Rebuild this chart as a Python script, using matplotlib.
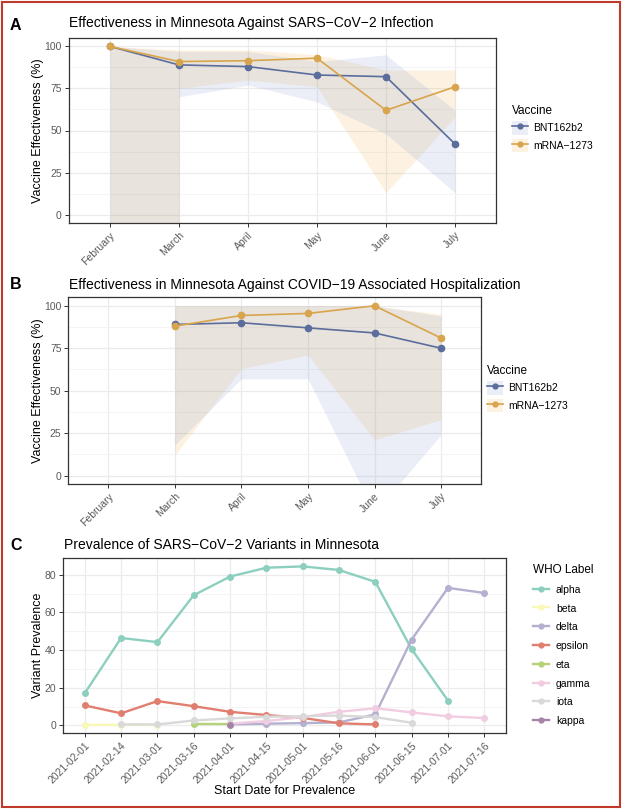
import numpy as np
import matplotlib
matplotlib.use("Agg")
import matplotlib.pyplot as plt
from matplotlib.lines import Line2D
from matplotlib.patches import Patch, Rectangle

plt.rcParams['font.family'] = ['Liberation Sans', 'DejaVu Sans']

# ---------------- data ----------------
months = ["February", "March", "April", "May", "June", "July"]
vaccines = ["BNT162b2", "mRNA\u22121273"]

# Panel A: infection
inf_bnt = [100, 89, 88, 83, 82, 42]
inf_mrna = [100, 91, 91.5, 93, 62, 76]
# CI (March..July); February lower bound unbounded
inf_bnt_lo = [70, 77, 67, 48, 13]
inf_bnt_hi = [97, 97, 91, 95, 62]
inf_mrna_lo = [75, 80, 76, 13, 58]
inf_mrna_hi = [98, 98, 95, 86, 86]
inf_feb_hi = 100

# Panel B: hospitalization (March..July)
hosp_bnt = [89, 90, 87, 84, 75]
hosp_mrna = [88, 94.3, 95.5, 100, 81]
hosp_bnt_lo = [18, 57, 57, -22, 24]
hosp_bnt_hi = [100, 100, 100, 100, 94]
hosp_mrna_lo = [12, 63, 71, 21, 33]
hosp_mrna_hi = [100, 100, 100, 100, 95]

# Panel C: variant prevalence
dates = ["2021-02-01", "2021-02-14", "2021-03-01", "2021-03-16", "2021-04-01",
         "2021-04-15", "2021-05-01", "2021-05-16", "2021-06-01", "2021-06-15",
         "2021-07-01", "2021-07-16"]
nan = np.nan
variants = ["alpha", "beta", "delta", "epsilon", "eta", "gamma", "iota", "kappa"]
alpha_v   = [17.1, 46.4, 44.2, 69.1, 79.0, 83.7, 84.4, 82.5, 76.2, 40.5, 13.2, nan]
beta_v    = [0.3, 0.3, 0.2, nan, nan, nan, nan, nan, nan, nan, nan, nan]
delta_v   = [nan, nan, nan, nan, 0.5, 0.9, 1.2, 1.6, 5.8, 45.5, 73.0, 70.3]
epsilon_v = [10.6, 6.4, 12.9, 10.2, 7.2, 5.5, 4.0, 1.1, 0.5, nan, nan, nan]
eta_v     = [nan, nan, nan, 0.6, 0.6, nan, nan, nan, nan, nan, nan, nan]
gamma_v   = [nan, nan, nan, nan, 0.9, 2.3, 4.4, 7.2, 9.1, 6.9, 4.8, 3.9]
iota_v    = [nan, 0.5, 0.5, 2.6, 3.7, 4.6, 4.9, 5.2, 4.4, 1.4, nan, nan]
kappa_v   = [nan, nan, nan, nan, 0.2, nan, nan, nan, nan, nan, nan, nan]

# ---------------- styles ----------------
W, H = 622, 809
C_BNT = "#5a6d9c"
C_MRNA = "#d8a44c"
F_BNT = "#6680c3"
F_MRNA = "#f0a020"
FA = 0.13
var_colors = ["#8dcfbf", "#f8f8b8", "#b4b0d0", "#e07f6f", "#b5d27a", "#f2cce0",
              "#d9d9d9", "#a584a8"]
TICK_C = "#5a5a5a"
GRID_C = "#ebebeb"

fig = plt.figure(figsize=(W / 100, H / 100), dpi=100)


def axes_px(l, t, r, b):
    return fig.add_axes([l / W, 1 - b / H, (r - l) / W, (b - t) / H])


def style(ax, ymaj, ymin):
    ax.set_yticks(ymaj)
    ax.set_yticks(ymin, minor=True)
    ax.grid(True, which='major', color=GRID_C, lw=0.9, zorder=0)
    ax.grid(True, which='minor', axis='y', color="#f3f3f3", lw=0.6, zorder=0)
    ax.set_axisbelow(True)
    for s in ax.spines.values():
        s.set_color("#333333")
        s.set_linewidth(0.9)
    ax.tick_params(axis='both', which='major', length=3, width=0.7, color="#333333",
                   labelcolor=TICK_C, labelsize=7.5, pad=2)
    ax.tick_params(axis='both', which='minor', length=0)


# ---------------- Panel A ----------------
axA = axes_px(68.6, 38, 496.4, 223)
xm = np.arange(len(months))
for lo, hi, fc in [(inf_mrna_lo, inf_mrna_hi, F_MRNA), (inf_bnt_lo, inf_bnt_hi, F_BNT)]:
    axA.fill_between(xm[:2], [-100, -100], [inf_feb_hi, hi[0]], color=fc, alpha=FA, lw=0, zorder=1)
    axA.fill_between(xm[1:], lo, hi, color=fc, alpha=FA, lw=0, zorder=1)
axA.plot(xm, inf_bnt, color=C_BNT, lw=1.2, marker='o', ms=4.5, zorder=3)
axA.plot(xm, inf_mrna, color=C_MRNA, lw=1.2, marker='o', ms=4.5, zorder=3)
axA.set_xlim(-0.6, len(months) - 0.4)
axA.set_ylim(-5, 105)
style(axA, [0, 25, 50, 75, 100], [12.5, 37.5, 62.5, 87.5])
axA.set_xticks(xm)
axA.set_xticklabels(months, rotation=45, ha='right', rotation_mode='anchor')

# ---------------- Panel B ----------------
axB = axes_px(68.4, 297.3, 481, 484)
xh = xm[1:]
for lo, hi, fc in [(hosp_mrna_lo, hosp_mrna_hi, F_MRNA), (hosp_bnt_lo, hosp_bnt_hi, F_BNT)]:
    axB.fill_between(xh, lo, hi, color=fc, alpha=FA, lw=0, zorder=1)
axB.plot(xh, hosp_bnt, color=C_BNT, lw=1.2, marker='o', ms=4.5, zorder=3)
axB.plot(xh, hosp_mrna, color=C_MRNA, lw=1.2, marker='o', ms=4.5, zorder=3)
axB.set_xlim(-0.6, len(months) - 0.4)
axB.set_ylim(-5, 105)
style(axB, [0, 25, 50, 75, 100], [12.5, 37.5, 62.5, 87.5])
axB.set_xticks(xm)
axB.set_xticklabels(months, rotation=45, ha='right', rotation_mode='anchor')

# ---------------- Panel C ----------------
axC = axes_px(63, 558.3, 506, 733.3)
xd = np.arange(len(dates))
series = [alpha_v, beta_v, delta_v, epsilon_v, eta_v, gamma_v, iota_v, kappa_v]
order = [1, 4, 6, 5, 2, 7, 3, 0]
for i in order:
    axC.plot(xd, series[i], color=var_colors[i], lw=1.7, marker='o', ms=4,
             zorder=3 + i * 0.1)
handlesC = [Line2D([], [], color=var_colors[i], lw=1.7, marker='o', ms=3.5)
            for i in range(len(variants))]
axC.set_xlim(-0.6, len(dates) - 0.4)
axC.set_ylim(-4.2, 88.7)
style(axC, [0, 20, 40, 60, 80], [10, 30, 50, 70])
axC.set_xticks(xd)
axC.set_xticklabels(dates, rotation=45, ha='right', rotation_mode='anchor')

# ---------------- texts ----------------
def ftext(x, y, s, **kw):
    fig.text(x / W, 1 - y / H, s, **kw)

TITLE_FS = 10
ftext(69, 23, "Effectiveness in Minnesota Against SARS\u2212CoV\u22122 Infection",
      fontsize=TITLE_FS, va='center', ha='left')
ftext(69, 284.5, "Effectiveness in Minnesota Against COVID\u221219 Associated Hospitalization",
      fontsize=TITLE_FS, va='center', ha='left')
ftext(64, 545, "Prevalence of SARS\u2212CoV\u22122 Variants in Minnesota",
      fontsize=TITLE_FS, va='center', ha='left')
for lab, y in [("A", 25), ("B", 285), ("C", 546)]:
    ftext(10, y, lab, fontsize=11.5, fontweight='bold', va='center', ha='left')

ftext(38, 130.5, "Vaccine Effectiveness (%)", fontsize=9, rotation=90, va='center', ha='center')
ftext(38, 390.6, "Vaccine Effectiveness (%)", fontsize=9, rotation=90, va='center', ha='center')
ftext(38, 645.8, "Variant Prevalence", fontsize=9, rotation=90, va='center', ha='center')
ftext(284.5, 791, "Start Date for Prevalence", fontsize=9, va='center', ha='center')

# ---------------- legends ----------------
def vacc_handles():
    return [(Patch(facecolor=F_BNT, alpha=FA, edgecolor='none'),
             Line2D([], [], color=C_BNT, lw=1.2, marker='o', ms=3.5)),
            (Patch(facecolor=F_MRNA, alpha=FA, edgecolor='none'),
             Line2D([], [], color=C_MRNA, lw=1.2, marker='o', ms=3.5))]

for (lx, ly) in [(512, 105), (487, 365)]:
    fig.legend(vacc_handles(), vaccines, loc='upper left',
               bbox_to_anchor=(lx / W, 1 - ly / H), frameon=False,
               title="Vaccine", title_fontsize=8.5, fontsize=7.5,
               handlelength=1.5, handleheight=1.6, labelspacing=0.4,
               handletextpad=0.5, borderpad=0, borderaxespad=0, alignment='left')

fig.legend(handlesC, variants, loc='upper left', bbox_to_anchor=(533 / W, 1 - 564 / H),
           frameon=False, title="WHO Label", title_fontsize=8.5, fontsize=7.5,
           handlelength=1.5, handleheight=1.0, labelspacing=0.82, handletextpad=0.7,
           borderpad=0, borderaxespad=0, alignment='left')

# red frame
fig.patches.append(Rectangle((1.5 / W, 2.5 / H), (W - 4) / W, (H - 4.5) / H,
                             transform=fig.transFigure, fill=False,
                             edgecolor="#c0392b", lw=1.5))

fig.savefig("out.png", dpi=100, facecolor='white')
